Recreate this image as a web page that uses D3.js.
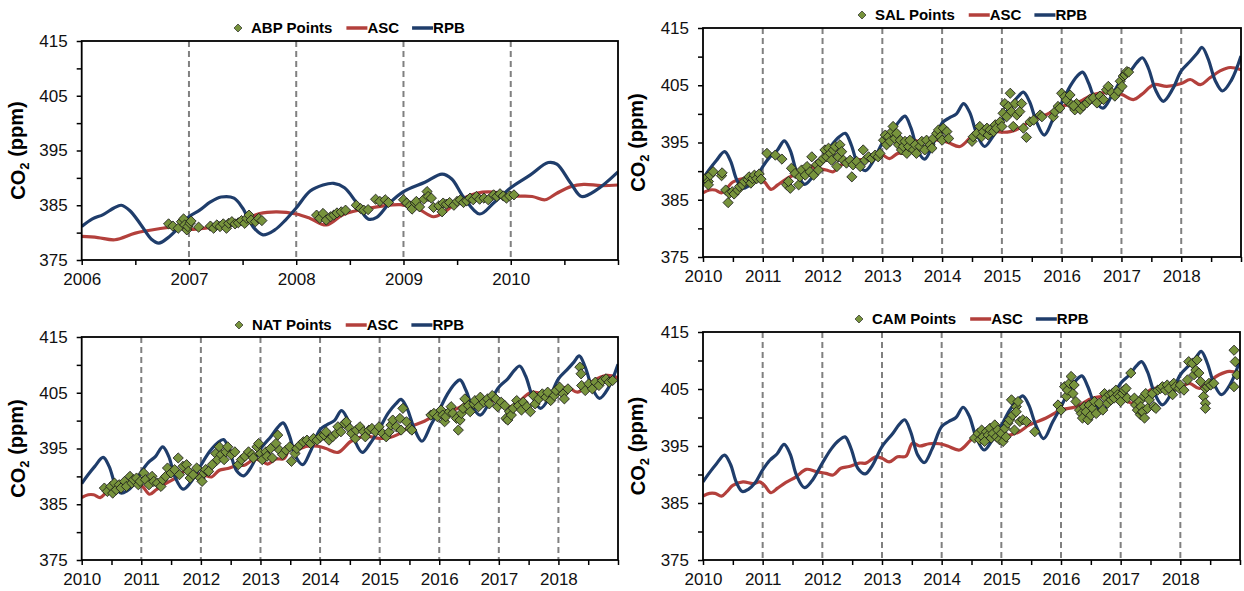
<!DOCTYPE html>
<html><head><meta charset="utf-8">
<script src="https://cdn.jsdelivr.net/npm/d3@7"></script>
<style>body{margin:0;background:#fff}svg{display:block}text{font-family:"Liberation Sans",Arial,sans-serif}</style>
</head><body><svg id="c" width="1244" height="591"></svg>
<script>
// ---------- DATA ----------
const Y_TICKS = [375,380,385,390,395,400,405,410,415];
const Y_LABELS = [375,385,395,405,415];
const SERIES_NAMES = ["ASC","RPB"];

// ABP panel lines (2006-2011)
const ASC_A = [[2006.00,379.3],[2006.15,379.1],[2006.31,378.7],[2006.50,379.9],[2006.72,380.7],[2006.85,381.0],[2007.04,380.6],[2007.35,381.5],[2007.50,382.2],[2007.66,383.5],[2007.82,383.8],[2008.00,383.4],[2008.13,382.6],[2008.28,381.4],[2008.44,383.3],[2008.66,384.4],[2008.97,385.1],[2009.12,384.5],[2009.28,382.9],[2009.37,383.6],[2009.53,386.0],[2009.68,387.2],[2009.84,387.4],[2009.99,386.7],[2010.20,386.6],[2010.32,386.0],[2010.43,387.2],[2010.56,388.4],[2010.68,388.8],[2010.84,388.6],[2011.00,388.7]];
const RPB_A = [[2006.00,381.1],[2006.10,382.5],[2006.20,383.3],[2006.30,384.5],[2006.37,385.0],[2006.45,384.0],[2006.55,381.5],[2006.65,378.8],[2006.72,378.1],[2006.80,379.0],[2006.90,380.8],[2007.00,382.9],[2007.10,384.1],[2007.20,385.6],[2007.30,386.5],[2007.42,386.3],[2007.50,384.5],[2007.60,381.0],[2007.69,379.6],[2007.80,380.5],[2007.90,382.3],[2008.00,384.5],[2008.13,387.6],[2008.25,388.7],[2008.35,389.0],[2008.45,388.2],[2008.55,385.8],[2008.67,382.5],[2008.75,382.8],[2008.87,385.4],[2009.00,387.5],[2009.20,389.2],[2009.36,390.7],[2009.45,389.8],[2009.56,386.5],[2009.71,383.4],[2009.84,385.4],[2010.00,388.2],[2010.18,390.5],[2010.35,392.8],[2010.43,392.5],[2010.56,389.0],[2010.66,386.6],[2010.80,387.8],[2011.00,391.1]];

// SAL / NAT / CAM panel lines (2010-2019)
const ASC_B = [[2010.00,386.2],[2010.11,386.7],[2010.20,386.7],[2010.31,386.2],[2010.40,387.0],[2010.50,388.1],[2010.67,388.7],[2010.84,388.4],[2010.95,388.7],[2011.03,388.1],[2011.14,386.8],[2011.25,387.6],[2011.39,388.6],[2011.56,389.6],[2011.73,390.9],[2011.90,390.5],[2012.06,390.2],[2012.18,389.9],[2012.31,391.1],[2012.45,391.4],[2012.62,392.0],[2012.73,392.0],[2012.90,393.1],[2013.01,392.8],[2013.12,392.2],[2013.26,393.1],[2013.40,393.2],[2013.51,395.5],[2013.63,395.0],[2013.79,395.4],[2013.96,395.4],[2014.10,395.0],[2014.30,394.3],[2014.52,396.3],[2014.75,397.2],[2015.00,396.8],[2015.14,396.9],[2015.30,397.5],[2015.47,398.7],[2015.75,399.9],[2016.00,401.3],[2016.25,401.9],[2016.53,403.4],[2016.76,403.7],[2017.00,403.4],[2017.20,402.5],[2017.34,403.4],[2017.54,405.1],[2017.76,404.8],[2018.00,405.3],[2018.15,406.0],[2018.32,405.1],[2018.48,406.3],[2018.65,407.5],[2018.82,408.1],[2019.00,407.7]];
const RPB_B = [[2010.00,388.7],[2010.10,390.2],[2010.22,391.8],[2010.36,393.4],[2010.46,391.8],[2010.56,388.6],[2010.66,387.0],[2010.76,387.4],[2010.87,388.5],[2011.00,390.8],[2011.12,392.5],[2011.24,393.6],[2011.36,395.3],[2011.46,393.6],[2011.57,389.8],[2011.70,387.7],[2011.82,388.8],[2012.00,392.0],[2012.15,394.5],[2012.28,396.0],[2012.38,396.6],[2012.48,394.6],[2012.60,391.0],[2012.72,390.1],[2012.84,391.6],[2013.00,394.9],[2013.18,397.2],[2013.29,398.8],[2013.38,399.6],[2013.48,397.5],[2013.60,393.4],[2013.71,392.1],[2013.84,394.5],[2014.00,398.4],[2014.12,399.3],[2014.24,400.0],[2014.36,401.8],[2014.46,400.3],[2014.58,396.5],[2014.71,394.3],[2014.84,395.9],[2015.00,398.6],[2015.14,401.3],[2015.27,403.0],[2015.36,403.8],[2015.46,402.2],[2015.58,398.6],[2015.71,396.3],[2015.86,399.2],[2016.00,401.9],[2016.14,404.8],[2016.26,406.6],[2016.35,407.3],[2016.45,405.4],[2016.57,402.2],[2016.69,401.0],[2016.83,403.0],[2017.00,406.0],[2017.15,407.5],[2017.26,409.0],[2017.35,409.8],[2017.45,408.0],[2017.57,404.2],[2017.70,402.2],[2017.86,404.4],[2018.00,407.5],[2018.15,409.2],[2018.26,410.5],[2018.35,411.6],[2018.45,409.6],[2018.57,405.8],[2018.69,404.0],[2018.84,405.9],[2019.00,410.1]];

const ABP_POINTS = [[2006.81,381.6],[2006.85,381.2],[2006.90,380.8],[2006.93,382.0],[2006.95,382.5],[2006.96,381.4],[2006.98,380.5],[2006.99,381.1],[2007.01,381.7],[2007.02,382.1],[2007.09,381.0],[2007.20,381.2],[2007.23,380.8],[2007.26,381.4],[2007.29,381.1],[2007.32,381.6],[2007.35,380.8],[2007.37,381.7],[2007.40,382.0],[2007.43,381.6],[2007.46,381.8],[2007.49,382.2],[2007.52,381.7],[2007.54,382.6],[2007.56,383.2],[2007.58,382.3],[2007.62,382.0],[2007.65,382.6],[2007.68,382.2],[2008.19,383.2],[2008.22,382.6],[2008.25,383.5],[2008.28,382.3],[2008.32,382.9],[2008.35,383.2],[2008.38,383.6],[2008.42,383.8],[2008.46,384.1],[2008.56,385.0],[2008.60,384.4],[2008.63,384.1],[2008.67,384.2],[2008.74,386.1],[2008.78,385.7],[2008.83,386.0],[2008.86,385.5],[2009.00,386.0],[2009.03,385.4],[2009.06,384.9],[2009.08,384.3],[2009.11,385.4],[2009.12,385.7],[2009.15,384.7],[2009.19,386.1],[2009.22,387.5],[2009.23,386.6],[2009.26,386.3],[2009.28,384.6],[2009.33,384.9],[2009.36,383.8],[2009.37,385.4],[2009.40,385.2],[2009.43,385.5],[2009.47,385.0],[2009.50,385.7],[2009.53,386.0],[2009.56,385.5],[2009.59,385.8],[2009.62,386.3],[2009.65,386.0],[2009.68,386.6],[2009.71,386.1],[2009.75,386.3],[2009.79,386.0],[2009.84,386.9],[2009.87,386.6],[2009.90,387.1],[2009.93,386.7],[2009.96,386.3],[2009.99,386.7],[2010.03,386.9]];

const SAL_POINTS = [[2010.04,388.7],[2010.09,388.2],[2010.09,387.6],[2010.12,389.3],[2010.17,389.9],[2010.31,389.2],[2010.32,389.7],[2010.38,386.7],[2010.42,384.5],[2010.44,386.1],[2010.49,386.4],[2010.52,386.0],[2010.58,386.7],[2010.61,387.3],[2010.66,387.6],[2010.69,388.2],[2010.75,388.5],[2010.77,389.0],[2010.80,387.9],[2010.83,388.7],[2010.86,389.3],[2010.90,388.7],[2010.94,389.5],[2010.97,388.6],[2011.07,393.1],[2011.21,392.8],[2011.32,392.1],[2011.40,387.6],[2011.46,387.0],[2011.43,388.2],[2011.48,390.5],[2011.54,389.6],[2011.60,387.6],[2011.62,389.0],[2011.65,390.2],[2011.71,389.3],[2011.74,390.8],[2011.79,389.9],[2011.82,392.5],[2011.85,389.3],[2011.90,391.1],[2011.93,390.2],[2011.96,391.6],[2012.01,392.2],[2012.04,393.7],[2012.07,392.5],[2012.10,394.0],[2012.13,393.1],[2012.15,391.9],[2012.18,393.7],[2012.21,394.3],[2012.24,390.8],[2012.26,392.5],[2012.29,394.6],[2012.32,393.4],[2012.35,391.9],[2012.40,391.4],[2012.46,391.9],[2012.49,389.0],[2012.51,391.1],[2012.57,391.7],[2012.63,390.8],[2012.68,393.7],[2012.71,391.9],[2012.77,392.5],[2012.82,392.2],[2012.88,392.8],[2012.93,392.5],[2012.96,393.1],[2013.02,395.4],[2013.05,396.3],[2013.07,394.6],[2013.10,396.0],[2013.13,395.2],[2013.16,396.9],[2013.18,397.8],[2013.21,395.7],[2013.24,396.6],[2013.27,394.6],[2013.30,395.4],[2013.32,393.7],[2013.35,394.3],[2013.38,395.2],[2013.41,393.1],[2013.44,394.3],[2013.46,395.4],[2013.52,393.7],[2013.55,394.6],[2013.57,393.1],[2013.63,394.3],[2013.66,395.2],[2013.71,393.7],[2013.74,395.4],[2013.80,394.6],[2013.83,394.0],[2013.85,395.7],[2013.91,396.6],[2013.94,397.2],[2013.97,396.0],[2014.00,395.4],[2014.02,397.5],[2014.08,396.9],[2014.11,395.7],[2014.50,395.2],[2014.52,396.0],[2014.58,396.6],[2014.63,397.8],[2014.66,396.0],[2014.69,396.9],[2014.75,397.5],[2014.77,396.3],[2014.80,397.2],[2014.86,396.9],[2014.89,398.1],[2014.91,397.5],[2014.97,398.6],[2015.00,397.8],[2015.02,400.1],[2015.05,401.8],[2015.08,399.5],[2015.11,401.3],[2015.14,403.6],[2015.16,400.4],[2015.19,397.8],[2015.22,401.8],[2015.25,399.8],[2015.30,400.4],[2015.33,401.8],[2015.36,397.5],[2015.41,395.9],[2015.47,398.6],[2015.53,398.9],[2015.64,399.8],[2015.67,399.5],[2015.86,399.5],[2015.89,400.4],[2015.94,401.3],[2015.97,401.0],[2016.00,403.6],[2016.05,403.0],[2016.08,402.4],[2016.14,403.3],[2016.16,401.6],[2016.22,400.7],[2016.25,401.8],[2016.20,401.4],[2016.31,400.8],[2016.36,401.4],[2016.42,401.9],[2016.47,402.5],[2016.53,402.8],[2016.59,401.9],[2016.64,403.1],[2016.70,402.5],[2016.75,404.2],[2016.78,404.8],[2016.84,403.7],[2016.89,403.1],[2016.95,404.0],[2016.98,405.7],[2017.01,404.8],[2017.03,406.6],[2017.06,406.8],[2017.09,407.4],[2017.12,407.3]];

const NAT_POINTS = [[2010.38,387.9],[2010.43,387.3],[2010.49,388.2],[2010.52,387.0],[2010.55,388.8],[2010.58,387.6],[2010.63,388.5],[2010.66,387.9],[2010.72,389.1],[2010.75,388.2],[2010.81,390.0],[2010.84,388.8],[2010.87,389.4],[2010.92,389.7],[2010.95,388.5],[2010.98,389.1],[2011.04,390.6],[2011.07,389.4],[2011.13,388.5],[2011.18,390.0],[2011.21,389.1],[2011.27,388.8],[2011.33,388.2],[2011.36,389.4],[2011.41,390.0],[2011.44,391.5],[2011.50,390.6],[2011.56,391.2],[2011.62,393.3],[2011.64,390.3],[2011.70,391.8],[2011.76,392.1],[2011.79,390.9],[2011.82,389.7],[2011.87,390.3],[2011.93,391.5],[2011.99,389.7],[2012.02,389.1],[2012.05,390.6],[2012.08,391.2],[2012.13,390.9],[2012.19,392.1],[2012.25,394.1],[2012.28,393.0],[2012.31,395.3],[2012.34,393.9],[2012.39,393.0],[2012.42,394.4],[2012.45,395.3],[2012.51,393.9],[2012.57,394.4],[2012.63,392.1],[2012.68,393.0],[2012.74,393.6],[2012.80,394.4],[2012.86,393.9],[2012.88,393.3],[2012.94,395.3],[2012.97,395.9],[2013.00,394.1],[2013.03,393.0],[2013.09,394.4],[2013.11,393.6],[2013.17,395.0],[2013.20,393.3],[2013.26,395.9],[2013.29,397.4],[2013.32,394.7],[2013.37,393.9],[2013.43,394.7],[2013.49,395.3],[2013.52,392.7],[2013.58,394.1],[2013.61,395.0],[2013.66,395.6],[2013.72,396.2],[2013.78,396.5],[2013.84,395.9],[2013.89,396.8],[2013.95,396.5],[2014.01,397.1],[2014.07,397.4],[2014.10,398.0],[2014.15,396.5],[2014.21,397.1],[2014.27,397.7],[2014.30,398.9],[2014.35,398.0],[2014.41,399.5],[2014.44,399.8],[2014.50,398.6],[2014.53,397.7],[2014.59,396.8],[2014.61,398.3],[2014.67,398.9],[2014.73,398.0],[2014.76,397.1],[2014.82,398.3],[2014.87,398.6],[2014.93,398.0],[2014.99,398.9],[2015.05,397.7],[2015.11,397.1],[2015.16,398.0],[2015.19,399.2],[2015.22,400.1],[2015.28,398.9],[2015.34,400.4],[2015.36,398.3],[2015.39,402.2],[2015.45,399.8],[2015.51,398.6],[2015.54,398.3],[2015.86,401.0],[2015.91,401.3],[2015.97,400.7],[2016.03,401.9],[2016.06,401.0],[2016.09,399.8],[2016.11,400.7],[2016.17,401.6],[2016.20,402.5],[2016.23,401.3],[2016.29,400.4],[2016.32,398.3],[2016.35,400.1],[2016.37,401.3],[2016.40,402.2],[2016.43,403.9],[2016.49,402.7],[2016.52,401.6],[2016.58,403.0],[2016.60,403.6],[2016.66,402.5],[2016.69,404.2],[2016.75,403.3],[2016.81,403.9],[2016.84,403.0],[2016.89,404.5],[2016.95,403.9],[2016.98,402.5],[2017.04,403.3],[2017.10,402.7],[2017.12,400.4],[2017.15,400.1],[2017.18,401.6],[2017.21,401.0],[2017.24,402.2],[2017.30,403.6],[2017.33,402.7],[2017.38,401.9],[2017.41,403.3],[2017.47,402.5],[2017.53,401.6],[2017.58,404.5],[2017.61,403.0],[2017.67,403.9],[2017.73,404.8],[2017.79,404.2],[2017.82,405.1],[2017.87,403.6],[2017.93,404.5],[2017.96,405.4],[2018.02,406.0],[2018.08,404.8],[2018.10,403.9],[2018.16,405.7],[2018.36,409.6],[2018.38,408.4],[2018.39,406.3],[2018.45,405.4],[2018.51,406.6],[2018.57,405.7],[2018.62,406.9],[2018.68,406.3],[2018.74,407.2],[2018.80,407.5],[2018.85,406.9],[2018.91,407.2]];

const CAM_POINTS = [[2014.55,396.4],[2014.61,397.2],[2014.64,396.1],[2014.67,397.8],[2014.69,396.6],[2014.72,395.8],[2014.75,397.5],[2014.78,396.9],[2014.81,398.1],[2014.83,396.4],[2014.86,397.2],[2014.89,398.7],[2014.92,396.6],[2014.94,397.8],[2014.97,396.1],[2015.00,397.2],[2015.03,395.8],[2015.06,398.1],[2015.08,396.6],[2015.11,399.0],[2015.14,399.6],[2015.17,403.1],[2015.19,400.4],[2015.22,397.8],[2015.25,401.9],[2015.28,402.8],[2015.25,401.0],[2015.31,399.3],[2015.36,399.6],[2015.42,399.3],[2015.56,397.5],[2015.95,402.2],[2016.00,401.3],[2016.06,405.4],[2016.09,403.7],[2016.11,404.8],[2016.14,406.0],[2016.17,407.2],[2016.20,404.2],[2016.22,405.7],[2016.25,402.8],[2016.31,401.3],[2016.34,400.7],[2016.36,399.9],[2016.39,401.9],[2016.42,401.0],[2016.45,399.6],[2016.47,402.2],[2016.50,400.4],[2016.53,401.6],[2016.56,402.8],[2016.59,400.7],[2016.64,402.5],[2016.70,401.3],[2016.73,404.2],[2016.75,403.4],[2016.78,402.5],[2016.81,404.0],[2016.84,403.1],[2016.86,404.2],[2016.89,403.4],[2016.92,404.8],[2016.95,404.0],[2016.98,403.7],[2017.00,402.8],[2017.03,404.2],[2017.06,404.8],[2017.09,405.1],[2017.11,403.4],[2017.17,407.8],[2017.23,403.4],[2017.25,402.2],[2017.28,401.3],[2017.31,402.8],[2017.33,400.5],[2017.34,401.9],[2017.36,400.9],[2017.37,401.0],[2017.39,403.7],[2017.40,399.9],[2017.42,404.2],[2017.45,401.6],[2017.48,403.1],[2017.53,404.2],[2017.56,401.9],[2017.59,401.6],[2017.62,404.8],[2017.67,405.1],[2017.70,405.4],[2017.75,404.8],[2017.78,405.7],[2017.81,405.1],[2017.87,404.0],[2017.89,406.0],[2017.92,405.4],[2017.98,405.1],[2018.00,405.7],[2018.06,404.8],[2018.12,406.6],[2018.14,409.8],[2018.20,409.5],[2018.23,407.5],[2018.26,408.3],[2018.28,410.1],[2018.31,407.8],[2018.34,406.3],[2018.39,403.7],[2018.42,402.5],[2018.42,401.6],[2018.42,405.1],[2018.45,405.4],[2018.48,406.0],[2018.51,405.7],[2018.56,406.0],[2018.90,411.8],[2018.92,409.8],[2018.95,407.5],[2018.90,405.4]];

// ---------- DRAWING ----------
const COLORS = {ASC:"#B3403C", RPB:"#1F3D6B", pt:"#77933C", grid:"#808080"};
const panels = [
  {site:"ABP", pts:ABP_POINTS, asc:ASC_A, rpb:RPB_A, x0:2006, x1:2011, box:[81.7,41,618,260], leg:[238,28], ylx:18},
  {site:"SAL", pts:SAL_POINTS, asc:ASC_B, rpb:RPB_B, x0:2010, x1:2019, box:[703,28,1241,257], leg:[862,15], ylx:638},
  {site:"NAT", pts:NAT_POINTS, asc:ASC_B, rpb:RPB_B, x0:2010, x1:2019, box:[81.7,337,618,560], leg:[239,325], ylx:18},
  {site:"CAM", pts:CAM_POINTS, asc:ASC_B, rpb:RPB_B, x0:2010, x1:2019, box:[703,332,1240,560], leg:[859,319], ylx:638}
];
const svg = d3.select("#c");
const FONT = '"Liberation Sans",Arial,sans-serif';
const diamond = d3.symbol().type(d3.symbolSquare);

panels.forEach((p,i)=>{
  const [L,T,R,B] = p.box;
  const x = d3.scaleLinear().domain([p.x0,p.x1]).range([L,R]);
  const y = d3.scaleLinear().domain([375,415]).range([B,T]);
  const g = svg.append("g");
  const cid = "clip"+i;
  svg.append("clipPath").attr("id",cid).append("rect").attr("x",L).attr("y",T).attr("width",R-L).attr("height",B-T);

  // dashed year grid lines
  g.append("g").selectAll("line").data(d3.range(p.x0+1,p.x1)).join("line")
    .attr("x1",d=>x(d)).attr("x2",d=>x(d)).attr("y1",T).attr("y2",B)
    .attr("stroke",COLORS.grid).attr("stroke-width",2).attr("stroke-dasharray","6,4");

  const line = d3.line().x(d=>x(d[0])).y(d=>y(d[1])).curve(d3.curveCatmullRom.alpha(0.5));
  const lg = g.append("g").attr("clip-path",`url(#${cid})`);
  lg.append("path").datum(p.asc).attr("d",line).attr("fill","none").attr("stroke",COLORS.ASC).attr("stroke-width",3.2);
  lg.append("path").datum(p.rpb).attr("d",line).attr("fill","none").attr("stroke",COLORS.RPB).attr("stroke-width",3.2);

  // points
  lg.append("g").selectAll("path").data(p.pts).join("path")
    .attr("d",diamond.size(52)())
    .attr("transform",d=>`translate(${x(d[0])},${y(d[1])}) rotate(45)`)
    .attr("fill",COLORS.pt).attr("stroke","#1a1a1a").attr("stroke-width",0.8);

  // axes
  const half = d3.range(p.x0, p.x1+0.01, 0.5);
  const ax = g.append("g").attr("transform",`translate(0,${B})`)
    .call(d3.axisBottom(x).tickValues(half).tickSize(5).tickSizeOuter(0).tickPadding(8)
      .tickFormat(d=> (Number.isInteger(d) && d<p.x1) ? String(d) : ""));
  const ay = g.append("g").attr("transform",`translate(${L},0)`)
    .call(d3.axisLeft(y).tickValues(Y_TICKS).tickSize(5).tickSizeOuter(0).tickPadding(9)
      .tickFormat(d=> Y_LABELS.includes(d) ? String(d) : ""));
  [ax,ay].forEach(a=>{
    a.attr("font-family",FONT).attr("font-size",17);
    a.select(".domain").remove();
    a.selectAll(".tick line").attr("stroke","#000").attr("stroke-width",1.5);
    a.selectAll("text").attr("fill","#111");
  });
  // frame
  g.append("rect").attr("x",L).attr("y",T).attr("width",R-L).attr("height",B-T)
    .attr("fill","none").attr("stroke","#000").attr("stroke-width",1.8);

  // y label
  const yl = g.append("text").attr("transform",`translate(${p.ylx},${(T+B)/2}) rotate(-90)`)
    .attr("text-anchor","middle").attr("dy","0.36em").attr("font-weight","bold").attr("font-size",20).attr("fill","#000");
  yl.append("tspan").text("CO");
  yl.append("tspan").text("2").attr("font-size",13).attr("dy","0.3em");
  yl.append("tspan").text(" (ppm)").attr("dy","-0.3em");

  // legend
  const [lx,ly] = p.leg;
  const leg = g.append("g").attr("font-family",FONT).attr("font-weight","bold").attr("font-size",15);
  leg.append("path").attr("d",diamond.size(32)()).attr("transform",`translate(${lx},${ly}) rotate(45)`)
    .attr("fill",COLORS.pt).attr("stroke","#1a1a1a").attr("stroke-width",0.6);
  let t = leg.append("text").attr("x",lx+13).attr("y",ly).attr("dy","0.36em").text(p.site+" Points");
  let cx = lx+13+t.node().getComputedTextLength()+14;
  SERIES_NAMES.forEach(n=>{
    leg.append("line").attr("x1",cx).attr("x2",cx+21).attr("y1",ly).attr("y2",ly)
      .attr("stroke",COLORS[n]).attr("stroke-width",3.5);
    const tt = leg.append("text").attr("x",cx+21).attr("y",ly).attr("dy","0.36em").text(n);
    cx = cx+21+tt.node().getComputedTextLength()+13;
  });
});
</script></body></html>
